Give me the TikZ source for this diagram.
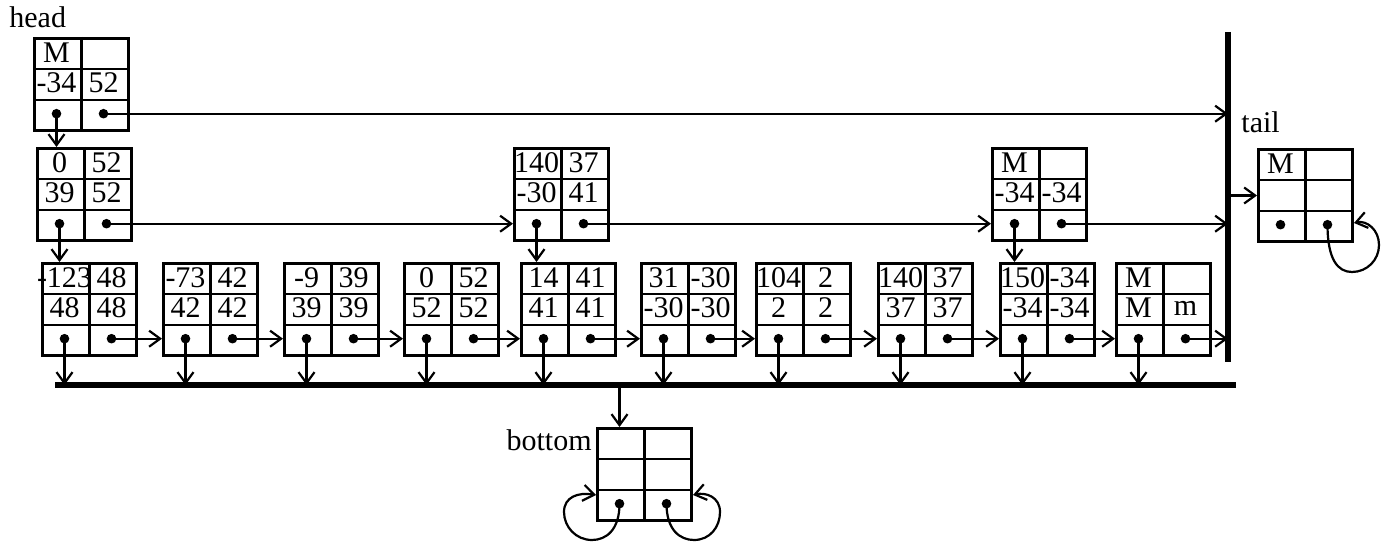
\documentclass[tikz,border=0pt]{standalone}
\usepackage{fontspec}
\setmainfont{Liberation Serif}
\usetikzlibrary{arrows.meta,calc}
\tikzset{
  box/.style={draw,line width=1.5pt,minimum width=47pt,minimum height=46pt,inner sep=0pt,anchor=north west},
  cell/.style={inner sep=0pt,font=\fontsize{15}{17}\selectfont},
  lbl/.style={inner sep=0pt,font=\fontsize{15}{17}\selectfont},
  ptr/.style={line width=1.1pt,-{Straight Barb[length=5.5pt,width=8pt]}},
  bar/.style={line width=2.8pt},
}
% record box: name, x, y (top left), four cell values
\newcommand{\recnode}[7]{%
  \node[box] (#1) at (#2,#3) {};
  \draw[line width=1.1pt] (#1.north) -- (#1.south)
    ($(#1.north west)!1/3!(#1.south west)$) -- ($(#1.north east)!1/3!(#1.south east)$)
    ($(#1.north west)!2/3!(#1.south west)$) -- ($(#1.north east)!2/3!(#1.south east)$);
  \node[cell] (#1a) at ($(#1.north west)+(23.5,15.3)$) {#4};
  \node[cell] (#1b) at ($(#1.north west)+(70.5,15.3)$) {#5};
  \node[cell] (#1c) at ($(#1.north west)+(23.5,46)$) {#6};
  \node[cell] (#1d) at ($(#1.north west)+(70.5,46)$) {#7};
  \coordinate (#1l) at ($(#1.north west)+(23.5,76.7)$);
  \coordinate (#1r) at ($(#1.north west)+(70.5,76.7)$);
  \fill (#1l) circle (2.4pt) (#1r) circle (2.4pt);
}
\begin{document}
\begin{tikzpicture}[x=0.5pt,y=-0.5pt]
\useasboundingbox (0,0) rectangle (1384,544);
\node[lbl,anchor=base west] (headlbl) at (9,28) {head};
\recnode{h}{33}{37}{M}{}{-34}{52}
\recnode{u}{36}{147}{0}{52}{39}{52}
\recnode{v}{513}{147}{140}{37}{-30}{41}
\recnode{w}{991}{147}{M}{}{-34}{-34}
\foreach \nm/\xx/\pa/\pb/\pc/\pd in {n1/41/-123/48/48/48,n2/162/-73/42/42/42,
    n3/283/-9/39/39/39,n4/403/0/52/52/52,n5/520/14/41/41/41,n6/640/31/-30/-30/-30,
    n7/755/104/2/2/2,n8/877/140/37/37/37,n9/999/150/-34/-34/-34,n10/1115/M//M/m}
  {\recnode{\nm}{\xx}{262}{\pa}{\pb}{\pc}{\pd}}

% tail
\coordinate (ttop) at (1228,32);
\coordinate (tbot) at (1228,362);
\draw[bar] (ttop) -- (tbot);
\node[lbl,anchor=base west] (taillbl) at (1241,133) {tail};
\recnode{t}{1257}{148}{M}{}{}{}
\draw[ptr] (t.west -| ttop) -- (t.west);
\draw[ptr] (tr) .. controls (1327.5,260) and (1338,272) .. (1352,272)
  .. controls (1367,272) and (1379,260) .. (1379,245)
  .. controls (1379,230) and (1367,220) .. ($(t.south east)+(0,-20)$);

% bottom
\coordinate (bleft) at (55,385);
\coordinate (bright) at (1236,385);
\draw[bar] (bleft) -- (bright);
\recnode{b}{596}{427}{}{}{}{}
\node[lbl,anchor=base east] (botlbl) at (592,450) {bottom};
\draw[ptr] (bl |- bleft) -- (bl |- b.north);
\draw[ptr] (bl) .. controls (619.5,530) and (606,540) .. (592,540)
  .. controls (576,540) and (564,527) .. (564,512)
  .. controls (564,497) and (578,492) .. ($(b.south west)+(0,-27)$);
\draw[ptr] (br) .. controls (666.5,530) and (680,540) .. (694,540)
  .. controls (710,540) and (720,527) .. (720,512)
  .. controls (720,497) and (706,492) .. ($(b.south east)+(0,-27)$);

% pointers
\draw[ptr] (hl) -- (hl |- u.north);
\draw[ptr] (hr) -- (hr -| ttop);
\draw[ptr] (ul) -- (ul |- n1.north);
\draw[ptr] (ur) -- (ur -| v.west);
\draw[ptr] (vl) -- (vl |- n5.north);
\draw[ptr] (vr) -- (vr -| w.west);
\draw[ptr] (wl) -- (wl |- n9.north);
\draw[ptr] (wr) -- (wr -| ttop);
\foreach \a/\b in {n1/n2,n2/n3,n3/n4,n4/n5,n5/n6,n6/n7,n7/n8,n8/n9,n9/n10}
  \draw[ptr] (\a r) -- (\a r -| \b.west);
\draw[ptr] (n10r) -- (n10r -| ttop);
\foreach \a in {n1,n2,n3,n4,n5,n6,n7,n8,n9,n10}
  \draw[ptr] (\a l) -- (\a l |- bleft);
\end{tikzpicture}
\end{document}
